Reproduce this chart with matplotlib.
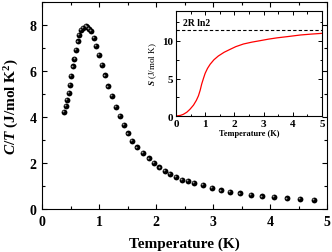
import matplotlib
matplotlib.use("Agg")
import matplotlib.pyplot as plt
import matplotlib.transforms as mtransforms
from matplotlib.ticker import MultipleLocator
import numpy as np

# specific heat C/T vs temperature (main panel)
temp_k = [0.39, 0.42, 0.44, 0.47, 0.49, 0.51, 0.54, 0.57, 0.60, 0.63, 0.65, 0.69,
          0.72, 0.77, 0.79, 0.82, 0.86, 0.91, 0.95, 1.00, 1.05, 1.11, 1.16, 1.22,
          1.29, 1.36, 1.43, 1.50, 1.58, 1.67, 1.77, 1.87, 1.96, 2.06, 2.16, 2.25,
          2.35, 2.46, 2.56, 2.67, 2.82, 2.98, 3.14, 3.30, 3.47, 3.67, 3.86, 4.07,
          4.29, 4.53, 4.77]
c_over_t = [4.23, 4.47, 4.74, 5.03, 5.40, 5.80, 6.20, 6.52, 6.93, 7.29, 7.58, 7.77,
            7.88, 7.97, 7.90, 7.83, 7.73, 7.45, 7.09, 6.71, 6.28, 5.81, 5.33, 4.90,
            4.45, 4.03, 3.64, 3.29, 2.96, 2.68, 2.45, 2.20, 2.01, 1.81, 1.65, 1.52,
            1.38, 1.28, 1.22, 1.13, 1.04, 0.91, 0.81, 0.75, 0.68, 0.61, 0.55, 0.51,
            0.46, 0.43, 0.40]

# entropy vs temperature (inset)
s_temp = [0.0, 0.15, 0.25, 0.37, 0.48, 0.60, 0.70, 0.77, 0.83, 0.88, 0.94, 1.00,
          1.08, 1.17, 1.30, 1.45, 1.65, 1.86, 2.05, 2.31, 2.60, 2.89, 3.17, 3.46,
          3.85, 4.26, 4.63, 5.0]
s_vals = [0.0, 0.08, 0.22, 0.50, 0.90, 1.45, 2.10, 2.70, 3.45, 4.25, 5.00, 5.70,
          6.35, 6.90, 7.50, 8.00, 8.50, 8.90, 9.25, 9.60, 9.85, 10.05, 10.25, 10.42,
          10.60, 10.80, 10.92, 11.02]
s_sat = 2 * 8.314 * np.log(2)

plt.rcParams["font.family"] = ["Liberation Serif", "DejaVu Serif"]
plt.rcParams["mathtext.fontset"] = "custom"
plt.rcParams["mathtext.rm"] = "Liberation Serif:bold"
plt.rcParams["mathtext.it"] = "Liberation Serif:bold:italic"
plt.rcParams["mathtext.bf"] = "Liberation Serif:bold"

fig = plt.figure(figsize=(3.32, 2.53), dpi=100)
ax = fig.add_axes([0.1265, 0.170, 0.8585, 0.818])

ax.plot(temp_k, c_over_t, "o", color="black", markersize=4.2, markeredgewidth=0)
hl = mtransforms.offset_copy(ax.transData, fig=fig, x=-0.6, y=0.6, units="points")
ax.plot(temp_k, c_over_t, "o", color="#9a9a9a", markersize=1.3, markeredgewidth=0,
        transform=hl)

ax.set_xlim(0, 5)
ax.set_ylim(0, 9)
ax.xaxis.set_major_locator(MultipleLocator(1))
ax.xaxis.set_minor_locator(MultipleLocator(0.5))
ax.yaxis.set_major_locator(MultipleLocator(2))
ax.yaxis.set_minor_locator(MultipleLocator(1))
ax.tick_params(which="both", direction="in", top=True, right=True, width=0.8)
ax.tick_params(which="major", length=3.5, labelsize=10, pad=4)
ax.tick_params(which="minor", length=2)
for lab in ax.get_xticklabels() + ax.get_yticklabels():
    lab.set_fontweight("bold")
ax.set_xlabel("Temperature (K)", fontsize=11, fontweight="bold", labelpad=6.5)
ax.set_ylabel(r"$C/T$ (J/mol K$^2$)", fontsize=11, fontweight="bold", labelpad=6)

# inset: entropy
ins = fig.add_axes([0.530, 0.5375, 0.440, 0.4151])
ins.plot(s_temp, s_vals, color="red", linewidth=0.9)
ins.axhline(s_sat, color="black", linestyle=(0, (3, 2)), linewidth=0.8)
ins.text(0.25, 12.1, "2R ln2", fontsize=7, fontweight="bold")
ins.set_xlim(0, 5)
ins.set_ylim(0, 14)
ins.xaxis.set_major_locator(MultipleLocator(1))
ins.xaxis.set_minor_locator(MultipleLocator(0.5))
ins.yaxis.set_major_locator(MultipleLocator(5))
ins.yaxis.set_minor_locator(MultipleLocator(2.5))
ins.tick_params(which="both", direction="in", top=True, right=True, width=0.7)
ins.tick_params(which="major", length=3, labelsize=8, pad=2)
ins.tick_params(which="minor", length=1.8)
for lab in ins.get_xticklabels() + ins.get_yticklabels():
    lab.set_fontweight("bold")
ins.set_xlabel("Temperature (K)", fontsize=6, fontweight="bold", labelpad=1)
ins.set_ylabel(r"$\mathit{S}$ (J/mol K)", fontsize=6.5, labelpad=2)

fig.savefig("out.png", dpi=100)
